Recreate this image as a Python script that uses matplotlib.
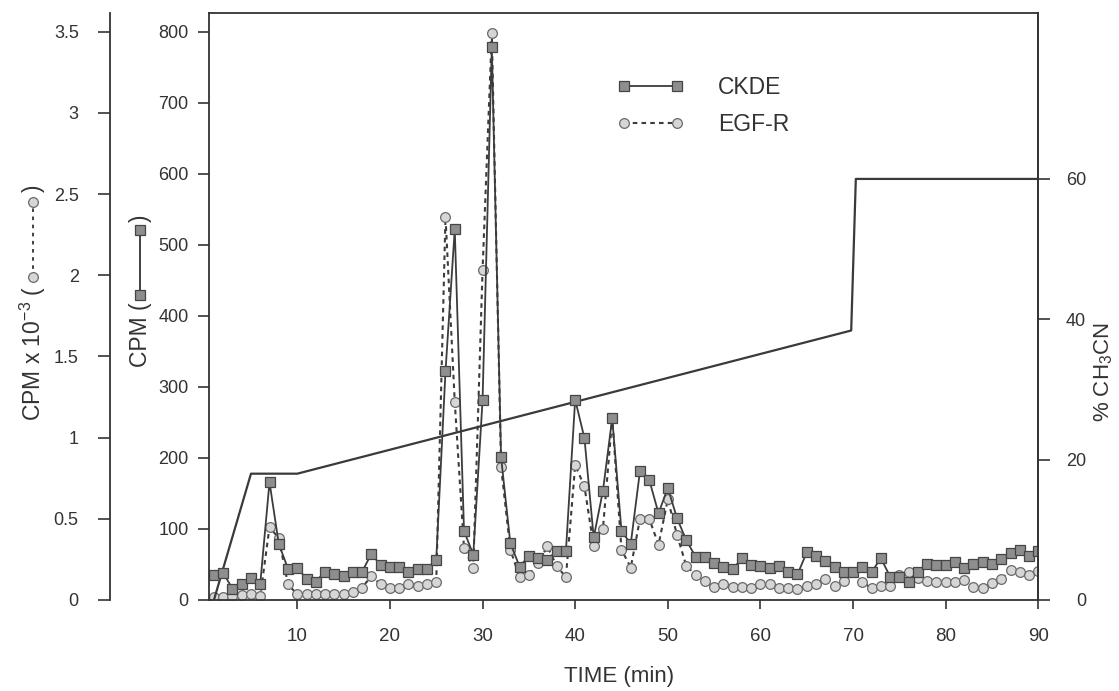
import matplotlib
matplotlib.use('Agg')  # no display in the sandbox
import matplotlib.pyplot as plt
from matplotlib.lines import Line2D
import numpy as np

plt.rcParams['font.family'] = ['Liberation Sans', 'DejaVu Sans']
plt.rcParams['mathtext.default'] = 'regular'

ink = '#333333'

# one fraction per minute of the run
time_min = np.arange(1, 91)

# CKDE activity, CPM (inner left axis)
ckde_cpm = [35, 38, 16, 23, 31, 23, 166, 79, 44, 45,
            30, 26, 40, 36, 34, 39, 40, 65, 49, 47,
            46, 39, 44, 44, 57, 322, 522, 97, 64, 281,
            778, 201, 80, 47, 62, 59, 57, 69, 69, 282,
            228, 88, 154, 256, 97, 79, 182, 169, 122, 158,
            115, 84, 61, 60, 52, 46, 43, 59, 49, 48,
            45, 48, 40, 36, 67, 62, 55, 47, 40, 40,
            47, 39, 59, 33, 33, 26, 40, 50, 49, 49,
            54, 45, 51, 54, 50, 58, 66, 70, 62, 69]

# EGF-R kinase, CPM x 10^-3 (outer left axis)
egfr_kcpm = [0.018, 0.018, 0.022, 0.030, 0.034, 0.022, 0.45, 0.38, 0.096, 0.034,
             0.034, 0.039, 0.039, 0.039, 0.039, 0.051, 0.076, 0.148, 0.096, 0.076,
             0.076, 0.096, 0.086, 0.10, 0.11, 2.36, 1.22, 0.32, 0.20, 2.03,
             3.49, 0.82, 0.31, 0.14, 0.155, 0.23, 0.33, 0.21, 0.14, 0.83,
             0.70, 0.33, 0.44, 1.12, 0.31, 0.20, 0.50, 0.50, 0.34, 0.62,
             0.40, 0.21, 0.155, 0.115, 0.080, 0.097, 0.082, 0.078, 0.072, 0.097,
             0.097, 0.076, 0.076, 0.066, 0.086, 0.097, 0.13, 0.088, 0.12, 0.17,
             0.11, 0.073, 0.087, 0.088, 0.154, 0.17, 0.137, 0.117, 0.11, 0.108,
             0.11, 0.123, 0.082, 0.076, 0.102, 0.129, 0.185, 0.174, 0.154, 0.178]

# acetonitrile gradient, % (right axis)
grad_time = [1, 5, 10, 69.8, 70.3, 90]
grad_pct = [0, 18, 18, 38.4, 60, 60]

x_ticks = list(range(10, 100, 10))
cpm_ticks = list(range(0, 900, 100))
kcpm_ticks = [0, 0.5, 1, 1.5, 2, 2.5, 3, 3.5]
kcpm_labels = ['0', '0.5', '1', '1.5', '2', '2.5', '3', '3.5']
pct_ticks = [0, 20, 40, 60]

W, H = 1119, 691
fig = plt.figure(figsize=(W / 100, H / 100), dpi=100)
ax = fig.add_axes([209.3 / W, 1 - 600 / H, 829 / W, 586.7 / H])
ax_egf = ax.twinx()
ax_pct = ax.twinx()

cpm_top = 826
ax.set_xlim(0.5, 90)
ax.set_ylim(0, cpm_top)
ax_egf.set_ylim(0, cpm_top * 3.5 / 800)
ax_pct.set_ylim(0, 83.6)

sq_style = dict(marker='s', ms=7.2, mfc='#8e8e8e', mec='#454545', mew=0.9)
ci_style = dict(marker='o', ms=7, mfc='#d6d6d6', mec='#6a6a6a', mew=0.9)

# data
egf_line, = ax_egf.plot(time_min, egfr_kcpm, ls=(0, (2.2, 2.0)), lw=1.5, color='#3c3c3c',
                        **ci_style)
ckde_line, = ax.plot(time_min, ckde_cpm, '-', lw=1.3, color='#3c3c3c', **sq_style)
ax_pct.plot(grad_time, grad_pct, '-', lw=1.6, color='#3a3a3a')

# put the CKDE axes on top so squares cover circles
ax.set_zorder(ax_egf.get_zorder() + 1)
ax.patch.set_visible(False)

# spines
for s in ax.spines.values():
    s.set_color(ink)
    s.set_linewidth(1.3)
for s in ('top', 'right', 'bottom'):
    ax_egf.spines[s].set_visible(False)
ax_egf.spines['left'].set_visible(True)
ax_egf.spines['left'].set_position(('axes', -0.1198))
ax_egf.spines['left'].set_color(ink)
ax_egf.spines['left'].set_linewidth(1.3)
ax_egf.yaxis.set_ticks_position('left')
for s in ('top', 'left', 'bottom'):
    ax_pct.spines[s].set_visible(False)
ax_pct.spines['right'].set_color(ink)
ax_pct.spines['right'].set_linewidth(1.3)

# ticks
ax.set_xticks(x_ticks)
ax.tick_params(axis='x', direction='out', length=6.5, width=1.2, pad=14,
               labelsize=13.5, colors=ink)
ax.set_yticks(cpm_ticks)
ax.tick_params(axis='y', direction='out', length=8, width=1.2, pad=7,
               labelsize=13, colors=ink)
ax_egf.set_yticks(kcpm_ticks, kcpm_labels)
ax_egf.tick_params(axis='y', direction='out', length=8.5, width=1.2, pad=14,
                   labelsize=13, colors=ink)
ax_pct.set_yticks(pct_ticks)
ax_pct.tick_params(axis='y', direction='out', length=8.5, width=1.2, pad=26,
                   labelsize=13, colors=ink)
plt.setp(ax_pct.get_yticklabels(), ha='right')

# axis titles
ax.set_xlabel('TIME (min)', fontsize=16, color=ink)
ax.xaxis.set_label_coords(0.494, -0.112)

fig.text(33 / W, 1 - 286 / H, 'CPM x 10$^{-3}$ (', rotation=90, ha='center', va='top',
         fontsize=16.5, color=ink)
fig.text(33 / W, 1 - 188 / H, ')', rotation=90, ha='center', va='center',
         fontsize=16.5, color=ink)
fig.add_artist(Line2D([33 / W, 33 / W], [1 - 277 / H, 1 - 202 / H], transform=fig.transFigure,
                      ls=(0, (2, 2.5)), lw=1.3, color=ink, **ci_style))

fig.text(140 / W, 1 - 302 / H, 'CPM (', rotation=90, ha='center', va='top',
         fontsize=16.5, color=ink)
fig.text(140 / W, 1 - 218 / H, ')', rotation=90, ha='center', va='center',
         fontsize=16.5, color=ink)
fig.add_artist(Line2D([140 / W, 140 / W], [1 - 295 / H, 1 - 230 / H], transform=fig.transFigure,
                      ls='-', lw=1.3, color=ink, **sq_style))

fig.text(1104 / W, 1 - 372 / H, '% CH$_3$CN', rotation=90, ha='center', va='center',
         fontsize=16, color=ink)

# legend
leg = fig.legend(handles=[ckde_line, egf_line], labels=['CKDE', 'EGF-R'],
                 loc='upper left', bbox_to_anchor=(617 / W, 1 - 76 / H),
                 bbox_transform=fig.transFigure, frameon=False, fontsize=16.5,
                 numpoints=2, handlelength=2.92, handletextpad=1.5,
                 labelspacing=0.6, borderpad=0, borderaxespad=0)
for t in leg.get_texts():
    t.set_color(ink)

fig.savefig('out.png', dpi=100)
